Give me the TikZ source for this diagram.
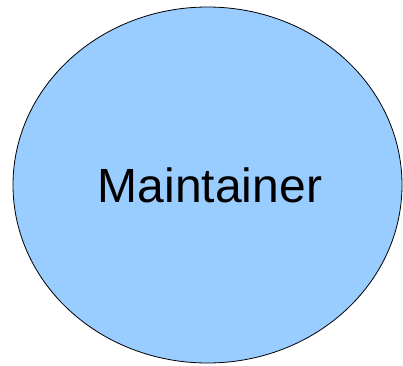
\documentclass[tikz,border=0pt]{standalone}
\usepackage{fontspec}
\setmainfont{Liberation Sans}
\definecolor{maintblue}{HTML}{99CCFF}
\begin{document}
\begin{tikzpicture}[x=1pt, y=1pt, color = {black}]
    \useasboundingbox (0,0) rectangle (403,365);
    \draw[black, fill=maintblue, line width=0.8pt] (207.5,180) ellipse (194.5 and 178);
    \node (maint) at (210,180) {\fontsize{48}{56}\selectfont Maintainer};
\end{tikzpicture}
\end{document}
